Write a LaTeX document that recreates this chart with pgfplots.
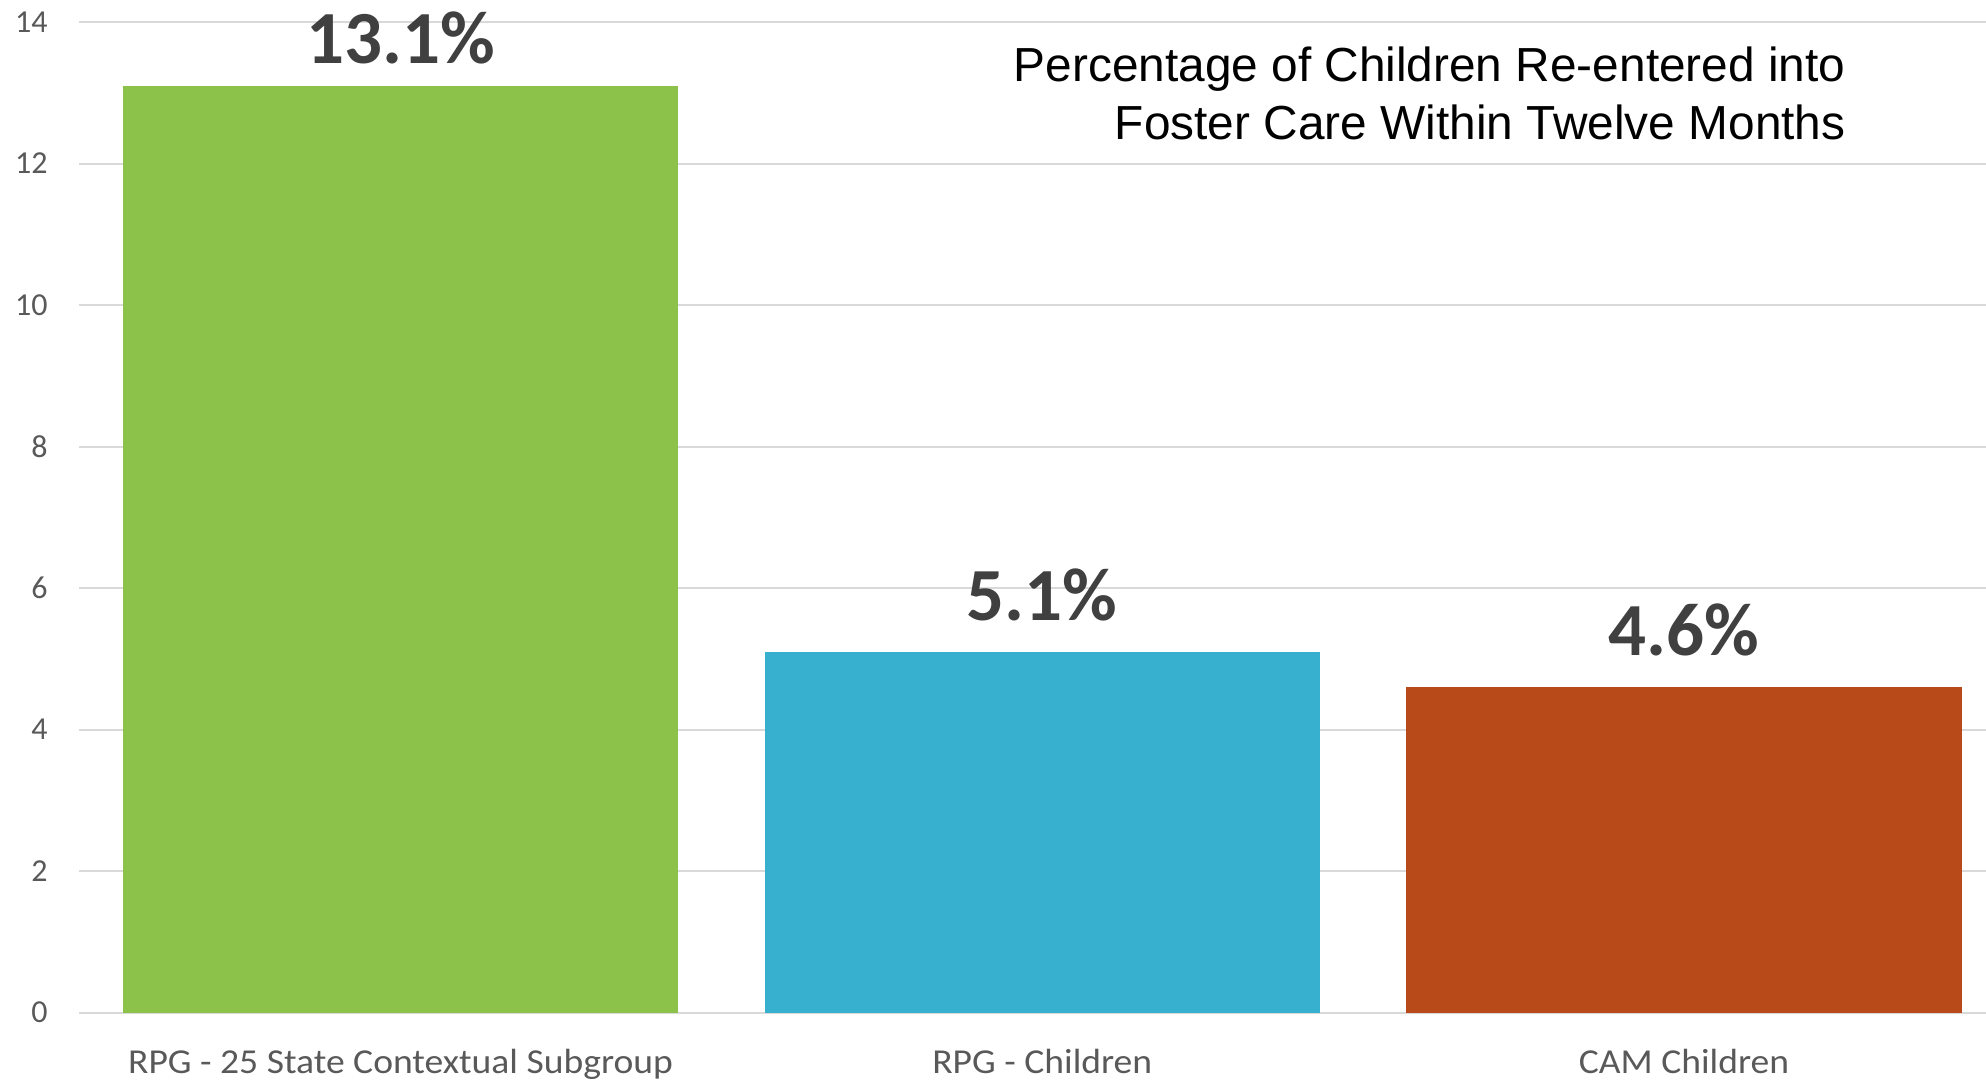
\documentclass[border=0pt]{standalone}
\usepackage{fontspec}
\setmainfont{Carlito}
\newfontfamily\titlefont{Liberation Sans}
\newfontfamily\xlabfont[FakeStretch=1.074]{Carlito}
\usepackage{pgfplots}
\pgfplotsset{compat=1.18}
\definecolor{bargreen}{HTML}{8CC249}
\definecolor{barblue}{HTML}{37AFCF}
\definecolor{barred}{HTML}{B84A19}
\definecolor{ticklab}{HTML}{595959}
\definecolor{vallab}{HTML}{404040}
\definecolor{gridc}{HTML}{D9D9D9}
\begin{document}
\begin{tikzpicture}
\useasboundingbox (-39.5pt,-34.15pt) rectangle (953.5pt,506.35pt);
\begin{axis}[
  anchor=south west, at={(0,0)},
  scale only axis,
  width=953.5pt, height=495.35pt,
  xmin=-0.501, xmax=2.4706,
  ymin=0, ymax=14,
  ytick={0,2,...,14},
  xtick={0,1,2},
  xticklabels={RPG - 25 State Contextual Subgroup, RPG - Children, CAM Children},
  /pgf/number format/assume math mode=true,
  axis line style={draw=none},
  major tick length=0pt,
  ymajorgrids,
  major grid style={draw=gridc, line width=1pt},
  yticklabel style={anchor=east, inner sep=0pt, xshift=-15.5pt, font=\fontsize{16}{19}\selectfont, text=ticklab},
  xticklabel style={anchor=base, inner sep=0pt, yshift=-30.65pt, font=\xlabfont\fontsize{17.5}{21}\selectfont, text=ticklab},
  point meta=y,
  nodes near coords={\pgfmathprintnumber[fixed,precision=1,fixed zerofill]{\pgfplotspointmeta}\%},
  nodes near coords style={font=\bfseries\fontsize{37.5}{44}\selectfont, text=vallab, anchor=base, inner sep=0pt},
  clip=false,
]
\addplot[ybar, bar shift=0pt, bar width=0.865, fill=bargreen, draw=none,
  every node near coord/.append style={anchor=base, yshift=11pt}] coordinates {(0,13.1)};
\addplot[ybar, bar shift=0pt, bar width=0.865, fill=barblue, draw=none,
  every node near coord/.append style={anchor=base, yshift=15.85pt}] coordinates {(1,5.1)};
\addplot[ybar, bar shift=0pt, bar width=0.865, fill=barred, draw=none,
  every node near coord/.append style={anchor=base, yshift=15.85pt}] coordinates {(2,4.6)};
\node[anchor=base east, inner sep=0pt, font=\titlefont\fontsize{23.9}{28}\selectfont] at (axis description cs:0.9265,0.9398) {Percentage of Children Re-entered into};
\node[anchor=base east, inner sep=0pt, font=\titlefont\fontsize{23.9}{28}\selectfont] at (axis description cs:0.9265,0.8816) {Foster Care Within Twelve Months};
\end{axis}
\end{tikzpicture}
\end{document}
